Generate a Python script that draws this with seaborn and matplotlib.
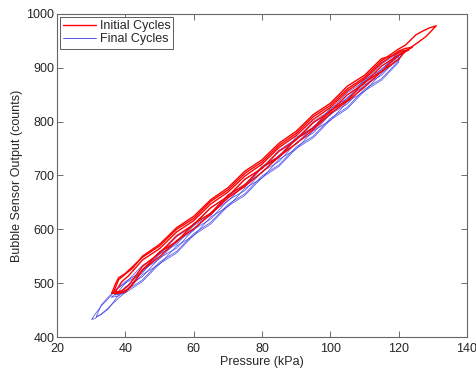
import matplotlib
matplotlib.use("Agg")
import matplotlib.pyplot as plt
import pandas as pd
import seaborn as sns
from matplotlib.lines import Line2D

# ---------------- data ----------------
# Initial cycles (red): lower branch (rising pressure) and upper branch (falling pressure)
red1_lo_x = [36, 38, 40, 42, 45, 50, 55, 60, 65, 70, 75, 80, 85, 90, 95, 100, 105, 110, 115, 120, 122, 125, 128, 131]
red1_lo_y = [481, 481, 484, 497, 525, 549, 579, 601, 628, 658, 680, 706, 735, 759, 785, 815, 838, 864, 893, 916, 931, 944, 958, 978]
red1_up_x = [131, 129, 127, 125, 122, 120, 115, 110, 105, 100, 95, 90, 85, 80, 75, 70, 65, 60, 55, 50, 45, 42, 40, 38, 37, 36]
red1_up_y = [978, 974, 968, 961, 942, 935, 913, 882, 861, 830, 809, 778, 756, 725, 704, 673, 652, 620, 600, 569, 548, 530, 518, 510, 497, 481]

red2_lo_x = [36.5, 39, 41, 43, 45, 50, 55, 60, 65, 70, 75, 80, 85, 90, 95, 100, 105, 110, 115, 120, 123]
red2_lo_y = [482, 483, 490, 505, 524, 558, 577, 610, 630, 663, 683, 715, 735, 768, 788, 820, 840, 873, 893, 924, 933]
red2_up_x = [123, 121, 118, 115, 110, 105, 100, 95, 90, 85, 80, 75, 70, 65, 60, 55, 50, 45, 42, 40, 38, 36.5]
red2_up_y = [933, 931, 922, 917, 886, 866, 834, 813, 782, 760, 729, 708, 677, 655, 624, 603, 572, 550, 527, 517, 506, 482]

red3_lo_x = [37, 39, 41, 45, 50, 55, 60, 65, 70, 75, 80, 85, 90, 95, 100, 105, 110, 115, 120, 124]
red3_lo_y = [483, 486, 496, 531, 556, 588, 609, 640, 661, 693, 713, 745, 766, 798, 818, 850, 871, 903, 924, 938]
red3_up_x = [124, 122, 120, 115, 110, 105, 100, 95, 90, 85, 80, 75, 70, 65, 60, 55, 50, 45, 41, 39, 37]
red3_up_y = [938, 936, 931, 909, 879, 857, 826, 804, 774, 752, 721, 699, 669, 647, 616, 595, 564, 543, 514, 503, 483]

# Final cycles (blue)
blue1_lo_x = [30.2, 31, 33, 35, 38, 40, 45, 50, 55, 60, 65, 70, 75, 80, 85, 90, 95, 100, 105, 110, 115, 120, 121.5]
blue1_lo_y = [433, 434, 443, 454, 472, 483, 516, 535, 569, 588, 623, 642, 676, 695, 730, 749, 783, 802, 837, 856, 890, 915, 930]
blue1_up_x = [121.5, 120, 115, 110, 105, 100, 95, 90, 85, 80, 75, 70, 65, 60, 55, 50, 45, 40, 37, 35, 33, 31, 30.2]
blue1_up_y = [930, 929, 896, 878, 843, 824, 789, 771, 736, 717, 682, 664, 629, 610, 575, 557, 522, 503, 486, 471, 458, 441, 433]

blue2_lo_x = [31.5, 33, 35, 38, 40, 45, 50, 55, 60, 65, 70, 75, 80, 85, 90, 95, 100, 105, 110, 115, 120, 122]
blue2_lo_y = [438, 442, 452, 478, 493, 512, 547, 565, 600, 619, 654, 672, 707, 726, 761, 779, 814, 833, 868, 886, 921, 933]
blue2_up_x = [122, 120, 115, 110, 105, 100, 95, 90, 85, 80, 75, 70, 65, 60, 55, 50, 45, 40, 37, 35, 33, 31.5]
blue2_up_y = [933, 928, 907, 875, 854, 821, 800, 768, 747, 714, 693, 661, 640, 607, 586, 554, 533, 500, 487, 474, 460, 438]

blue3_lo_x = [36, 38, 40, 45, 50, 55, 60, 65, 70, 75, 80, 85, 90, 95, 100, 105, 110, 115, 120, 121]
blue3_lo_y = [474, 476, 485, 506, 539, 559, 592, 613, 646, 666, 699, 720, 753, 773, 806, 827, 860, 880, 913, 926]
blue3_up_x = [121, 119, 115, 110, 105, 100, 95, 90, 85, 80, 75, 70, 65, 60, 55, 50, 45, 40, 38, 36]
blue3_up_y = [926, 921, 893, 875, 840, 821, 786, 768, 733, 714, 679, 661, 626, 607, 572, 554, 519, 500, 485, 474]

blue4_lo_x = [37, 40, 45, 50, 55, 60, 65, 70, 75, 80, 85, 90, 95, 100, 105, 110, 115, 120]
blue4_lo_y = [478, 482, 503, 536, 556, 589, 610, 643, 663, 696, 717, 750, 770, 803, 824, 857, 877, 910]
blue4_up_x = [120, 115, 110, 105, 100, 95, 90, 85, 80, 75, 70, 65, 60, 55, 50, 45, 40, 37]
blue4_up_y = [922, 898, 866, 845, 812, 791, 759, 738, 705, 684, 652, 631, 598, 577, 545, 524, 491, 478]

x_ticks = [20, 40, 60, 80, 100, 120, 140]
y_ticks = [400, 500, 600, 700, 800, 900, 1000]
labels = ["Initial Cycles", "Final Cycles"]

# ---------------- build table ----------------
cycles = [
    ("Initial Cycles", "r1", red1_lo_x + red1_up_x, red1_lo_y + red1_up_y),
    ("Initial Cycles", "r2", red2_lo_x + red2_up_x, red2_lo_y + red2_up_y),
    ("Initial Cycles", "r3", red3_lo_x + red3_up_x, red3_lo_y + red3_up_y),
    ("Final Cycles", "b1", blue1_lo_x + blue1_up_x, blue1_lo_y + blue1_up_y),
    ("Final Cycles", "b2", blue2_lo_x + blue2_up_x, blue2_lo_y + blue2_up_y),
    ("Final Cycles", "b3", blue3_lo_x + blue3_up_x, blue3_lo_y + blue3_up_y),
    ("Final Cycles", "b4", blue4_lo_x + blue4_up_x, blue4_lo_y + blue4_up_y),
]
frames = []
for grp, cyc, xs, ys in cycles:
    assert len(xs) == len(ys), cyc
    frames.append(pd.DataFrame({"x": xs, "y": ys, "group": grp, "cycle": cyc}))
df = pd.concat(frames, ignore_index=True)

# ---------------- plot ----------------
sns.set_theme(style="ticks")
plt.rcParams["font.family"] = ["Liberation Sans", "DejaVu Sans"]

fig = plt.figure(figsize=(4.77, 3.68), dpi=100)
ax = fig.add_axes([0.1195, 0.0842, 0.8595, 0.878])

RED = "#ff0000"
BLUE = "#3535e6"
styles = {"Final Cycles": (BLUE, 0.55, 0.85), "Initial Cycles": (RED, 1.0, 1.0)}
for grp in ["Final Cycles", "Initial Cycles"]:
    col, lw, al = styles[grp]
    sns.lineplot(data=df[df["group"] == grp], x="x", y="y", units="cycle",
                 estimator=None, sort=False, color=col, linewidth=lw, alpha=al,
                 ax=ax, legend=False)

ax.set_xlim(20, 140)
ax.set_ylim(400, 1000)
ax.set_xticks(x_ticks)
ax.set_yticks(y_ticks)
ax.tick_params(direction="in", top=True, right=True, length=4, width=0.6,
               color="#555555", labelsize=9)
ax.tick_params(axis="y", pad=2)
ax.tick_params(axis="x", pad=4)
for s in ax.spines.values():
    s.set_color("#666666")
    s.set_linewidth(0.8)
ax.set_xlabel("Pressure (kPa)", fontsize=9, labelpad=1)
ax.set_ylabel("Bubble Sensor Output (counts)", fontsize=9, labelpad=2)

handles = [Line2D([], [], color=RED, lw=1.0),
           Line2D([], [], color=BLUE, lw=0.6)]
leg = ax.legend(handles, labels, loc="upper left", fontsize=9, frameon=True,
                fancybox=False, edgecolor="#444444", framealpha=1,
                borderaxespad=0.25, handlelength=2.6, handletextpad=0.3,
                labelspacing=0.1, borderpad=0.25)
leg.get_frame().set_linewidth(0.6)

fig.savefig("out.png", dpi=100)
